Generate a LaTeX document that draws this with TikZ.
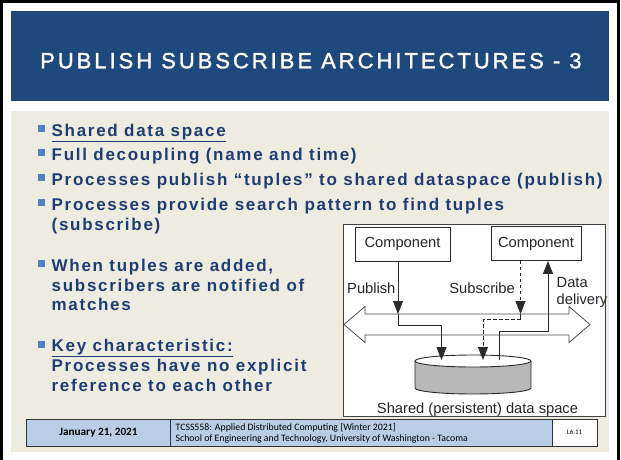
\documentclass[tikz,border=0pt]{standalone}
\usepackage{fontspec}
\setmainfont{Liberation Sans}
\newfontfamily\titlefont[LetterSpace=13.5, FakeBold=1.5]{Liberation Sans}
\newfontfamily\bodyfont[LetterSpace=10]{Liberation Sans}
\newfontfamily\footfont{Carlito}
\usetikzlibrary{arrows.meta}

\definecolor{titleblue}{HTML}{1F497D}
\definecolor{panelbeige}{HTML}{EEECE1}
\definecolor{bodyblue}{HTML}{1F3D72}
\definecolor{bulletblue}{HTML}{4F81BD}
\definecolor{footblue}{HTML}{B9CDE5}
\definecolor{linegray}{HTML}{2A2A2A}
\definecolor{drumgray}{HTML}{B8B8B8}

\tikzset{
  bodytext/.style={anchor=base west, text=bodyblue, inner sep=0pt,
    font=\bodyfont\bfseries\fontsize{17}{20}\selectfont},
  compbox/.style={draw=linegray, line width=0.9pt, fill=white, inner sep=0pt,
    font=\fontsize{14.7}{17}\selectfont, text=black!85},
  dlabel/.style={inner sep=0pt, font=\fontsize{14.7}{17}\selectfont, text=black!85},
  flow/.style={draw=linegray, line width=0.9pt},
  tip/.style={-{Triangle[length=13pt,width=10pt]}},
  dashflow/.style={flow, dash pattern=on 3.5pt off 2.5pt},
  footbox/.style={draw=black!80, line width=0.8pt},
}

% small square bullet sitting on the given baseline
\newcommand{\bulletat}[1]{\fill[bulletblue] (38,#1-11) rectangle (45,#1-4);}

\begin{document}
\begin{tikzpicture}[x=1pt,y=-1pt]
\useasboundingbox (0,0) rectangle (621,460);
\fill[white] (0,0) rectangle (621,460);

% page frame
\draw[black, line width=3pt] (1.5,460) -- (1.5,1.5) -- (618.5,1.5) -- (618.5,460);

% title band
\fill[titleblue] (11,11) rectangle (609,101);
\node[anchor=base west, inner sep=0pt, text=white,
  font=\titlefont\fontsize{22}{26}\selectfont] (title) at (40,68.3)
  {PUBLISH SUBSCRIBE ARCHITECTURES - 3};

% content panel
\fill[panelbeige] (11,111) rectangle (609,452);

% bullet list
\bulletat{136}
\node[bodytext] (b1) at (51.5,136) {\underline{Shared data space}};
\bulletat{160}
\node[bodytext] (b2) at (51.5,160) {Full decoupling (name and time)};
\bulletat{185}
\node[bodytext] (b3) at (51.5,185) {Processes publish “tuples” to shared dataspace (publish)};
\bulletat{210}
\node[bodytext] (b4) at (51.5,210) {Processes provide search pattern to find tuples};
\node[bodytext] (b4b) at (51.5,230) {(subscribe)};
\bulletat{271}
\node[bodytext] (b5) at (51.5,271) {When tuples are added,};
\node[bodytext] (b5b) at (51.5,291) {subscribers are notified of};
\node[bodytext] (b5c) at (51.5,310.5) {matches};
\bulletat{351.5}
\node[bodytext] (b6) at (51.5,351.5) {\underline{Key characteristic:}};
\node[bodytext] (b6b) at (51.5,371.5) {Processes have no explicit};
\node[bodytext] (b6c) at (51.5,391) {reference to each other};

% figure frame
\draw[draw=black!75, line width=0.9pt, fill=white] (343,224) rectangle (605,416);

% components
\node[compbox, minimum width=95pt, minimum height=34pt] (c1) at (402.5,244) {Component};
\node[compbox, minimum width=90pt, minimum height=34pt] (c2) at (536,243.5) {Component};

% hollow two-way bus
\coordinate (busL) at (344,324.5);
\coordinate (busR) at (590,324.5);
\draw[draw=black!70, line width=0.8pt, fill=white, line join=miter]
  (busL) -- (365,306.5) -- (365,314) -- (569,314) -- (569,306.5) -- (busR)
  -- (569,342.5) -- (569,335) -- (365,335) -- (365,342.5) -- cycle;

% shared data space drum
\coordinate (drum) at (473,361);
\fill[drumgray] (415,361) -- (415,388)
  arc[start angle=180, end angle=360, x radius=58pt, y radius=6pt] -- (531,361) -- cycle;
\draw[flow] (415,361) -- (415,388)
  arc[start angle=180, end angle=360, x radius=58pt, y radius=6pt] -- (531,361);
\draw[flow, fill=white] (drum) ellipse[x radius=58pt, y radius=6pt];

% publish path
\coordinate (pubBus) at (398,314);
\coordinate (pubMid) at (398,325);
\coordinate (pubIn) at (441.5,360);
\draw[flow, tip] ([xshift=-4.5pt]c1.south) -- (pubBus);
\draw[flow, tip] (pubBus) -- (pubMid) -| (pubIn);

% subscribe path
\coordinate (subBus) at (520.5,314);
\coordinate (subMid) at (520.5,319.5);
\coordinate (subIn) at (483,360);
\draw[dashflow, tip] ([xshift=-15.5pt]c2.south) -- (subBus);
\draw[flow] (subBus) -- (subMid);
\draw[dashflow, tip] (subMid) -| (subIn);

% data delivery path
\coordinate (delOut) at (499.5,360);
\coordinate (delMid) at (499.5,331);
\draw[flow, tip] (delOut) -- (delMid) -| ([xshift=12pt]c2.south);

% labels
\node[dlabel, anchor=base west] (lpub) at (347,293) {Publish};
\node[dlabel, anchor=base east] (lsub) at (515,293) {Subscribe};
\node[dlabel, anchor=base west] (ldata) at (556.5,287) {Data};
\node[dlabel, anchor=base west] (ldel) at (556.5,304) {delivery};
\node[dlabel, anchor=base] (lspace) at (477.5,413) {Shared (persistent) data space};

% footer
\draw[footbox, fill=footblue] (26,419) rectangle (170,446);
\draw[footbox, fill=footblue] (170,419) rectangle (552,446);
\draw[footbox, fill=white] (552,419) rectangle (597,446);
\node[inner sep=0pt, font=\footfont\bfseries\fontsize{11.2}{13}\selectfont] (fdate) at (98.5,432.5) {January 21, 2021};
\node[anchor=base west, inner sep=0pt, font=\footfont\fontsize{9.8}{11}\selectfont] (fc1) at (175.5,430.5)
  {TCSS558: Applied Distributed Computing [Winter 2021]};
\node[anchor=base west, inner sep=0pt, font=\footfont\fontsize{9.8}{11}\selectfont] (fc2) at (175.5,441.5)
  {School of Engineering and Technology, University of Washington - Tacoma};
\node[inner sep=0pt, font=\footfont\fontsize{7}{8}\selectfont] (fpage) at (574.5,432.5) {L6.11};
\end{tikzpicture}
\end{document}
